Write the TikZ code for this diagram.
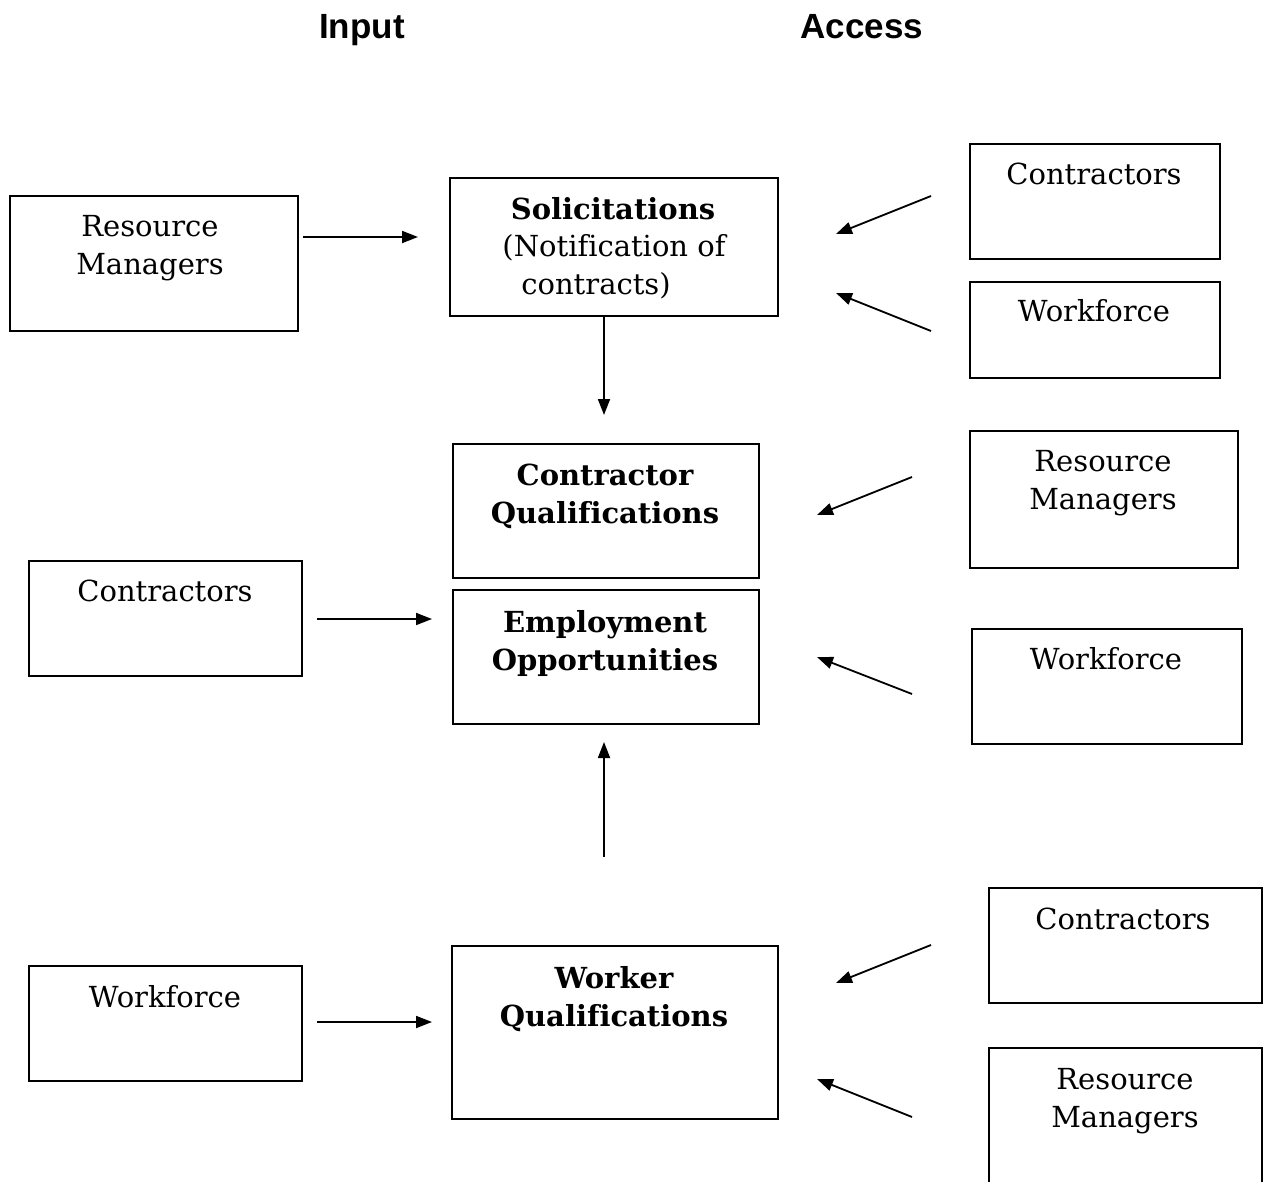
\documentclass[tikz,border=0pt]{standalone}
\usepackage{fontspec}
\setmainfont[Ligatures=NoCommon]{DejaVu Serif}
\newfontfamily\hdrfont{Liberation Sans}
\usetikzlibrary{arrows.meta}
\begin{document}
\begin{tikzpicture}[x=1pt,y=-1pt,
  box/.style={draw, line width=1.8pt, anchor=north west, inner sep=0pt},
  txt/.style={font=\fontsize{29}{38}\selectfont, anchor=base, inner sep=0pt, align=center},
  btxt/.style={txt, font=\fontsize{29}{38}\selectfont\bfseries},
  hdr/.style={font=\hdrfont\fontsize{35}{40}\selectfont\bfseries, anchor=base, inner sep=0pt},
  arr/.style={line width=1.8pt, -{Triangle[length=16pt,width=12pt]}}]
\useasboundingbox (0,0) rectangle (1264,1182);
% headers
\node[hdr] (hin) at (362,39) {Input};
\node[hdr] (hac) at (862,39) {Access};
% boxes
\node[box, minimum width=288pt, minimum height=135pt] (rml) at (9,195) {};
\node[box, minimum width=328pt, minimum height=138pt] (sol) at (449,177) {};
\node[box, minimum width=250pt, minimum height=115pt] (ctr1) at (969,143) {};
\node[box, minimum width=250pt, minimum height=96pt] (wfr1) at (969,281) {};
\node[box, minimum width=306pt, minimum height=134pt] (cq) at (452,443) {};
\node[box, minimum width=306pt, minimum height=134pt] (eo) at (452,589) {};
\node[box, minimum width=268pt, minimum height=137pt] (rmr2) at (969,430) {};
\node[box, minimum width=270pt, minimum height=115pt] (wfr2) at (971,628) {};
\node[box, minimum width=273pt, minimum height=115pt] (ctrl) at (28,560) {};
\node[box, minimum width=273pt, minimum height=115pt] (wfl) at (28,965) {};
\node[box, minimum width=326pt, minimum height=173pt] (wq) at (451,945) {};
\node[box, minimum width=273pt, minimum height=115pt] (ctr3) at (988,887) {};
\node[box, minimum width=273pt, minimum height=150pt] (rmr3) at (988,1047) {};
% texts (base anchor = baseline of last line)
\node[txt] (trml) at (150,275) {Resource\\Managers};
\node[btxt] (tsol1) at (613,220) {Solicitations};
\node[txt] (tsol2) at (614,257) {(Notification of};
\node[txt] (tsol3) at (596,295) {contracts)};
\node[txt] (tctr1) at (1094,185) {Contractors};
\node[txt] (twfr1) at (1094,322) {Workforce};
\node[btxt] (tcq) at (605,523) {Contractor\\Qualifications};
\node[btxt] (teo) at (605,670) {Employment\\Opportunities};
\node[txt] (trmr2) at (1103,509) {Resource\\Managers};
\node[txt] (twfr2) at (1106,669) {Workforce};
\node[txt] (tctrl) at (165,601) {Contractors};
\node[txt] (twfl) at (165,1007) {Workforce};
\node[btxt] (twq) at (614,1026) {Worker\\Qualifications};
\node[txt] (tctr3) at (1123,929) {Contractors};
\node[txt] (trmr3) at (1125,1127) {Resource\\Managers};
% arrow end points
\coordinate (a1s) at (303,237); \coordinate (a1e) at (418,237);
\coordinate (a2s) at (604,316); \coordinate (a2e) at (604,415);
\coordinate (a3s) at (931,196); \coordinate (a3e) at (836,234);
\coordinate (a4s) at (931,331); \coordinate (a4e) at (836,293);
\coordinate (a5s) at (912,477); \coordinate (a5e) at (817,515);
\coordinate (a6s) at (912,694); \coordinate (a6e) at (817,657);
\coordinate (a7s) at (317,619); \coordinate (a7e) at (432,619);
\coordinate (a8s) at (604,857); \coordinate (a8e) at (604,742);
\coordinate (a9s) at (317,1022); \coordinate (a9e) at (432,1022);
\coordinate (a10s) at (931,945); \coordinate (a10e) at (836,983);
\coordinate (a11s) at (912,1117); \coordinate (a11e) at (817,1079);
\foreach \i in {1,...,11} {\draw[arr] (a\i s) -- (a\i e);}
\end{tikzpicture}
\end{document}
